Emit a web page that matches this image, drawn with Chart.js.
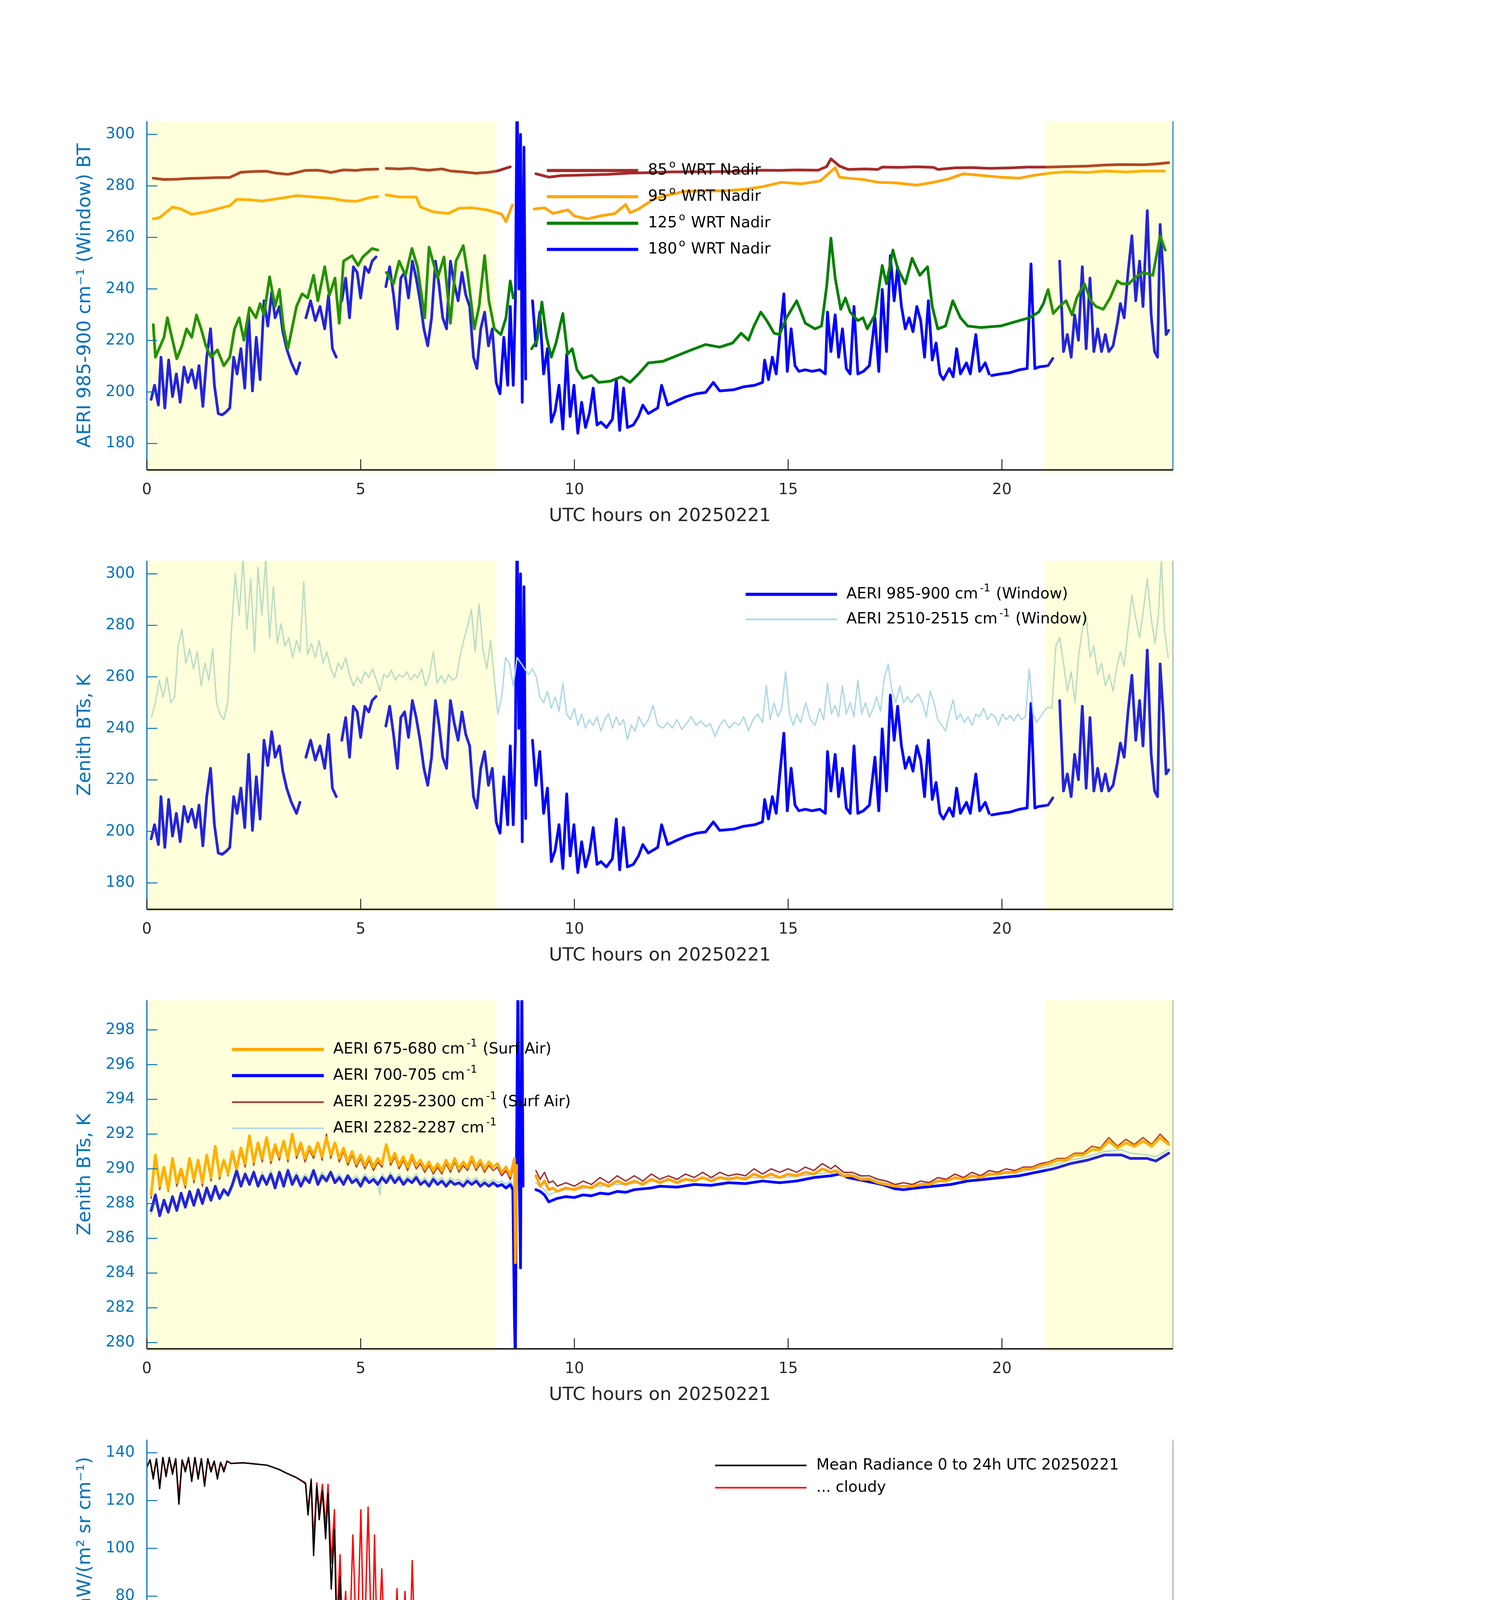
<!DOCTYPE html>
<html><head><meta charset="utf-8">
<script src="https://cdn.jsdelivr.net/npm/chart.js@4.4.1/dist/chart.umd.min.js"></script>
<style>
html,body{margin:0;padding:0;background:#fff;}
#wrap{position:relative;width:3825px;height:6000px;background:#fff;overflow:hidden;}
canvas{position:absolute;left:0;}
</style></head><body><div id="wrap">
<canvas id="c1" width="3825" height="1117" style="top:256px;width:3825px;height:1117px"></canvas>
<canvas id="c2" width="3825" height="1117" style="top:1381px;width:3825px;height:1117px"></canvas>
<canvas id="c3" width="3825" height="1117" style="top:2506px;width:3825px;height:1117px"></canvas>
<canvas id="c4" width="3825" height="1117" style="top:3631px;width:3825px;height:1117px"></canvas>
<canvas id="c5" width="3825" height="1117" style="top:4756px;width:3825px;height:1117px"></canvas>
</div>
<script>
// ---------------- DATA ----------------
const shadeStart = [0, 21.03];
const shadeEnd = [8.17, 24];
const hourTicks = [0, 5, 10, 15, 20];
const btTicks = [180, 200, 220, 240, 260, 280, 300];
const surfTicks = [280, 282, 284, 286, 288, 290, 292, 294, 296, 298];
const wnTicksA = [600, 800, 1000, 1200, 1400, 1600, 1800];
const wnTicksB = [1800, 2000, 2200, 2400, 2600, 2800, 3000];
const radTicksA = [0, 20, 40, 60, 80, 100, 120, 140];
const radTicksB = [0, 1, 2, 3, 4, 5, 6, 7, 8, 9];

// Panel 1: BT vs scene angle (hours, K)
const bt85 = [[0.15,283.0],[0.4,282.5],[0.7,282.6],[1.0,282.9],[1.3,283.0],[1.6,283.2],[1.94,283.3],[2.2,285.3],[2.5,285.6],[2.8,285.7],[3.0,285.0],[3.3,284.5],[3.5,285.2],[3.7,286.0],[4.0,286.1],[4.2,285.6],[4.3,285.2],[4.6,286.2],[4.9,286.0],[5.1,286.4],[5.4,286.5],[5.5,null],[5.6,286.8],[5.9,286.6],[6.2,286.9],[6.4,286.4],[6.6,286.1],[6.9,286.6],[7.1,285.8],[7.4,285.4],[7.7,284.9],[8.0,285.3],[8.2,285.8],[8.5,287.4],[8.8,null],[9.1,284.7],[9.4,283.4],[9.7,284.0],[10.0,284.1],[10.4,284.3],[10.8,284.5],[11.3,285.0],[11.7,285.1],[12.2,285.4],[12.7,285.5],[13.2,285.5],[13.7,285.6],[14.0,285.8],[14.4,286.1],[14.8,286.0],[15.2,286.2],[15.7,286.1],[15.9,287.5],[16.0,290.5],[16.2,287.7],[16.4,286.4],[16.8,286.6],[17.1,286.4],[17.2,287.3],[17.6,287.2],[18.0,287.4],[18.4,287.2],[18.5,286.4],[18.9,287.0],[19.3,287.1],[19.7,286.8],[20.2,287.0],[20.6,287.3],[21.1,287.3],[21.5,287.5],[22.0,287.7],[22.4,288.1],[22.8,288.3],[23.3,288.2],[23.6,288.5],[23.9,289.0]];
const bt95 = [[0.15,267.2],[0.3,267.7],[0.6,271.8],[0.8,271.0],[1.05,269.0],[1.4,270.0],[1.7,271.3],[1.95,272.4],[2.1,274.8],[2.4,274.6],[2.7,274.1],[3.05,275.0],[3.5,276.2],[3.9,275.7],[4.3,275.2],[4.6,274.3],[4.9,274.0],[5.2,275.4],[5.4,275.9],[5.5,null],[5.6,276.5],[5.9,275.7],[6.3,275.7],[6.4,271.8],[6.7,269.9],[7.05,269.3],[7.3,271.3],[7.6,271.5],[7.95,270.7],[8.3,269.0],[8.4,266.1],[8.55,272.6],[8.8,null],[9.06,271.0],[9.3,271.5],[9.5,269.3],[9.85,270.7],[10.0,268.3],[10.3,267.2],[10.6,268.3],[10.95,269.3],[11.2,272.8],[11.3,269.6],[11.5,271.0],[11.85,274.8],[12.2,276.5],[12.6,277.9],[13.1,278.1],[13.5,278.1],[14.0,278.7],[14.4,279.7],[14.85,281.4],[15.3,280.8],[15.75,281.9],[15.9,284.1],[16.1,287.1],[16.2,283.4],[16.4,283.0],[16.75,282.5],[17.1,281.4],[17.5,281.2],[18.0,280.3],[18.4,281.4],[18.75,282.7],[19.1,284.7],[19.5,284.1],[19.95,283.4],[20.4,283.0],[20.75,284.1],[21.1,284.9],[21.5,285.5],[22.0,285.2],[22.4,285.8],[22.9,285.4],[23.3,285.8],[23.8,285.8]];
const bt125 = [[0.15,226.1],[0.2,213.5],[0.4,221.2],[0.48,228.8],[0.7,212.9],[0.82,217.9],[0.93,224.5],[1.05,221.2],[1.16,229.9],[1.27,224.5],[1.38,217.9],[1.5,213.5],[1.65,216.3],[1.8,210.2],[1.94,213.5],[2.05,224.5],[2.16,228.8],[2.27,220.1],[2.4,232.7],[2.55,228.8],[2.65,234.3],[2.74,229.9],[2.87,244.7],[3.0,233.2],[3.1,239.8],[3.2,224.5],[3.3,216.8],[3.5,233.2],[3.63,238.1],[3.76,236.5],[3.9,245.3],[4.0,235.4],[4.16,248.6],[4.27,237.6],[4.4,244.2],[4.5,226.7],[4.6,250.8],[4.8,252.9],[4.94,249.1],[5.05,252.4],[5.27,255.7],[5.4,255.1],[5.5,null],[5.6,246.4],[5.77,242.0],[5.9,250.8],[6.05,245.3],[6.2,255.7],[6.33,248.6],[6.5,228.8],[6.6,256.2],[6.8,244.2],[6.95,252.4],[7.1,226.7],[7.23,250.8],[7.4,256.8],[7.5,246.4],[7.66,224.5],[7.77,233.2],[7.9,252.9],[8.0,235.4],[8.13,224.5],[8.28,222.3],[8.4,228.8],[8.5,243.1],[8.57,236.5],[8.8,null],[9.0,216.8],[9.13,220.1],[9.24,234.9],[9.35,221.2],[9.46,213.5],[9.57,219.0],[9.73,230.5],[9.84,214.6],[9.95,216.8],[10.06,208.6],[10.2,205.3],[10.4,206.4],[10.57,203.7],[10.84,204.2],[11.1,205.9],[11.3,203.7],[11.5,207.0],[11.73,211.3],[12.07,211.9],[12.4,214.1],[12.73,216.3],[13.07,218.4],[13.4,217.4],[13.7,219.0],[13.9,222.8],[14.07,220.1],[14.2,225.6],[14.36,231.0],[14.5,227.7],[14.67,222.8],[14.8,222.3],[14.96,228.8],[15.2,235.4],[15.4,226.7],[15.63,224.5],[15.78,225.6],[15.9,240.9],[16.0,259.7],[16.1,244.2],[16.23,232.1],[16.34,236.5],[16.45,231.0],[16.63,227.7],[16.75,228.8],[16.85,224.5],[17.03,229.9],[17.2,249.1],[17.3,242.0],[17.45,255.1],[17.56,248.0],[17.74,242.0],[17.9,251.9],[18.08,245.3],[18.26,248.6],[18.37,233.2],[18.5,224.5],[18.68,225.6],[18.85,235.4],[19.03,228.8],[19.2,225.6],[19.5,225.0],[19.97,225.6],[20.3,227.2],[20.64,228.8],[20.86,231.0],[20.97,234.3],[21.08,239.8],[21.2,230.5],[21.35,233.2],[21.5,235.4],[21.64,229.9],[21.75,236.5],[21.93,242.0],[22.08,235.4],[22.2,233.2],[22.37,232.1],[22.53,236.5],[22.7,243.1],[22.8,242.0],[22.97,242.0],[23.1,244.2],[23.3,246.4],[23.53,245.3],[23.7,260.6],[23.82,255.1]];
// 180 deg (zenith) = AERI 985-900 window channel, shared by panels 1 and 2
const bt180 = [[0.1,197.1],[0.18,202.6],[0.27,194.9],[0.33,213.5],[0.42,193.8],[0.51,212.4],[0.6,198.2],[0.69,207.0],[0.78,196.0],[0.87,209.7],[0.96,203.7],[1.05,208.6],[1.14,201.5],[1.22,210.2],[1.31,194.4],[1.4,213.5],[1.49,224.5],[1.58,202.6],[1.67,191.6],[1.76,191.1],[1.85,192.2],[1.94,193.8],[2.03,213.5],[2.11,207.0],[2.2,216.8],[2.29,201.5],[2.38,229.9],[2.47,200.4],[2.56,221.2],[2.65,204.8],[2.74,235.4],[2.83,225.6],[2.92,238.7],[3.0,228.8],[3.1,233.2],[3.18,223.4],[3.27,216.8],[3.38,211.3],[3.5,207.0],[3.58,211.3],[3.65,null],[3.72,228.8],[3.83,235.4],[3.94,227.7],[4.05,233.2],[4.16,224.5],[4.25,237.6],[4.34,216.8],[4.43,213.5],[4.5,null],[4.56,235.4],[4.65,244.2],[4.74,228.8],[4.83,248.6],[4.92,246.4],[5.0,236.5],[5.1,248.6],[5.19,246.4],[5.27,250.8],[5.36,252.4],[5.47,null],[5.59,240.9],[5.68,248.6],[5.77,237.6],[5.86,224.5],[5.94,244.2],[6.03,246.4],[6.12,236.5],[6.21,250.8],[6.3,244.2],[6.39,235.4],[6.48,224.5],[6.57,217.9],[6.66,228.8],[6.75,250.8],[6.83,242.0],[6.92,228.8],[7.01,224.5],[7.1,250.8],[7.19,242.0],[7.28,235.4],[7.37,246.4],[7.46,237.6],[7.55,233.2],[7.64,213.5],[7.72,209.1],[7.81,224.5],[7.9,231.0],[7.99,217.9],[8.08,224.5],[8.17,203.7],[8.26,199.3],[8.35,221.2],[8.44,202.6],[8.5,233.2],[8.57,202.6],[8.62,235.4],[8.66,320],[8.7,240],[8.74,300],[8.78,196.0],[8.82,295.0],[8.86,205],[8.92,null],[9.02,235.4],[9.1,217.9],[9.19,231.0],[9.28,207.0],[9.37,216.8],[9.46,188.3],[9.55,192.7],[9.64,202.6],[9.73,185.6],[9.82,214.6],[9.9,190.5],[9.99,202.6],[10.08,184.0],[10.17,196.0],[10.26,186.2],[10.35,191.6],[10.44,201.5],[10.53,187.2],[10.62,188.3],[10.75,186.2],[10.89,189.4],[10.98,204.8],[11.06,185.1],[11.15,201.5],[11.24,186.2],[11.38,187.2],[11.5,190.5],[11.6,194.9],[11.73,191.6],[11.95,193.8],[12.04,202.6],[12.18,194.9],[12.4,196.6],[12.62,198.2],[12.85,199.3],[13.07,199.8],[13.25,203.7],[13.4,200.4],[13.74,200.9],[13.96,202.0],[14.22,202.6],[14.4,203.7],[14.45,212.4],[14.54,204.8],[14.63,213.5],[14.72,207.0],[14.8,221.2],[14.9,238.1],[14.98,208.0],[15.07,224.5],[15.16,210.2],[15.25,208.0],[15.4,208.6],[15.56,208.0],[15.74,208.6],[15.87,207.0],[15.92,231.0],[16.0,215.7],[16.1,229.9],[16.18,213.5],[16.27,224.5],[16.36,209.1],[16.45,207.0],[16.54,233.2],[16.63,207.0],[16.76,208.0],[16.9,210.2],[17.03,228.8],[17.12,208.0],[17.2,239.8],[17.3,215.7],[17.39,252.9],[17.48,235.4],[17.56,248.6],[17.65,233.2],[17.74,224.5],[17.83,228.8],[17.92,223.4],[18.01,233.2],[18.1,227.7],[18.19,213.5],[18.28,235.4],[18.37,212.4],[18.46,219.0],[18.55,207.0],[18.63,204.8],[18.77,209.1],[18.86,205.9],[18.94,216.8],[19.03,207.0],[19.17,211.3],[19.26,207.0],[19.39,222.3],[19.48,208.0],[19.61,211.3],[19.7,207.0],[19.73,null],[19.76,206.4],[19.97,207.0],[20.19,207.5],[20.41,208.6],[20.59,209.1],[20.68,249.7],[20.77,209.1],[20.86,209.7],[21.08,210.2],[21.19,213.0],[21.27,null],[21.35,250.8],[21.44,215.7],[21.53,222.3],[21.62,213.5],[21.7,229.9],[21.79,220.1],[21.88,248.6],[21.97,216.8],[22.06,244.2],[22.15,215.7],[22.24,224.5],[22.33,215.7],[22.42,222.3],[22.5,215.7],[22.6,217.9],[22.7,226.7],[22.77,234.3],[22.86,228.8],[22.95,246.4],[23.04,260.6],[23.13,235.4],[23.22,250.8],[23.3,233.2],[23.4,270.4],[23.49,229.9],[23.57,215.7],[23.64,213.5],[23.7,265.0],[23.77,246.4],[23.84,222.3],[23.9,223.9]];

// Panel 2: AERI 2510-2515 window channel
const bt2510 = [[0.11,244.5],[0.2,250.0],[0.29,258.7],[0.38,252.2],[0.47,259.8],[0.56,250.0],[0.65,252.2],[0.73,271.9],[0.82,278.4],[0.91,265.3],[1.0,270.8],[1.09,263.1],[1.18,269.7],[1.27,256.5],[1.36,265.3],[1.45,258.7],[1.54,270.8],[1.63,250.0],[1.71,245.6],[1.8,243.4],[1.89,250.0],[1.98,278.4],[2.07,300.3],[2.16,283.9],[2.25,306],[2.34,278.4],[2.43,298.1],[2.52,269.7],[2.6,302.5],[2.69,283.9],[2.78,306],[2.87,275.2],[2.96,294.9],[3.05,273.0],[3.14,280.6],[3.23,271.9],[3.32,275.2],[3.41,267.5],[3.5,274.1],[3.58,269.7],[3.67,297.0],[3.76,268.6],[3.85,273.0],[3.94,267.5],[4.03,274.1],[4.12,265.3],[4.21,269.7],[4.3,263.1],[4.39,259.8],[4.47,265.3],[4.56,263.1],[4.65,267.5],[4.74,260.9],[4.83,256.5],[4.92,259.8],[5.01,257.6],[5.1,262.0],[5.19,259.8],[5.28,263.1],[5.37,258.7],[5.45,254.4],[5.54,260.9],[5.63,259.8],[5.72,262.6],[5.81,258.7],[5.9,260.9],[5.99,259.8],[6.08,262.0],[6.17,258.7],[6.26,260.9],[6.34,259.8],[6.43,263.1],[6.52,256.5],[6.61,260.9],[6.7,269.7],[6.79,257.6],[6.88,260.4],[6.97,257.6],[7.06,260.9],[7.15,258.7],[7.24,259.8],[7.32,267.5],[7.41,274.1],[7.5,279.5],[7.59,286.1],[7.68,269.7],[7.77,288.3],[7.86,270.8],[7.95,263.1],[8.04,274.1],[8.13,258.7],[8.21,245.6],[8.3,252.2],[8.39,267.5],[8.48,265.3],[8.57,256.5],[8.66,267.5],[8.75,265.3],[8.84,263.1],[8.93,260.9],[9.02,263.1],[9.11,259.8],[9.19,252.2],[9.28,250.0],[9.37,254.4],[9.46,247.8],[9.55,252.2],[9.64,246.7],[9.73,257.6],[9.82,245.6],[9.91,243.4],[10.0,247.8],[10.08,241.2],[10.17,245.6],[10.26,240.1],[10.35,243.4],[10.44,241.2],[10.53,244.5],[10.62,239.0],[10.71,243.4],[10.8,245.6],[10.89,240.1],[10.98,244.5],[11.06,241.2],[11.15,243.4],[11.24,235.7],[11.33,241.2],[11.42,239.0],[11.51,244.5],[11.62,240.7],[11.73,243.4],[11.84,248.9],[11.95,241.2],[12.07,240.1],[12.18,242.3],[12.29,240.1],[12.4,243.4],[12.51,239.6],[12.62,241.8],[12.73,244.5],[12.85,241.2],[12.96,242.9],[13.07,240.7],[13.18,241.8],[13.29,236.8],[13.4,241.2],[13.51,243.4],[13.62,240.1],[13.74,242.3],[13.85,241.2],[13.96,244.5],[14.07,239.0],[14.18,243.4],[14.29,245.6],[14.4,242.3],[14.49,256.5],[14.58,243.4],[14.67,250.0],[14.76,244.5],[14.85,247.8],[14.94,262.0],[15.03,245.6],[15.12,241.2],[15.2,245.6],[15.29,242.3],[15.41,250.0],[15.52,243.4],[15.63,241.2],[15.74,247.8],[15.83,243.4],[15.92,257.6],[16.01,245.6],[16.1,248.9],[16.18,244.5],[16.27,256.5],[16.36,245.6],[16.45,250.0],[16.54,244.5],[16.63,258.7],[16.72,245.6],[16.81,250.0],[16.9,244.5],[16.99,247.8],[17.07,252.2],[17.16,246.7],[17.25,259.8],[17.34,264.8],[17.43,254.4],[17.52,250.0],[17.61,256.5],[17.7,250.0],[17.79,252.2],[17.88,250.0],[17.97,252.2],[18.05,253.3],[18.14,250.0],[18.23,244.5],[18.32,254.4],[18.41,250.0],[18.5,243.4],[18.59,241.2],[18.68,239.0],[18.77,245.6],[18.86,251.1],[18.94,243.4],[19.03,245.6],[19.12,242.3],[19.21,244.5],[19.3,241.2],[19.39,245.6],[19.48,244.5],[19.57,247.8],[19.66,243.4],[19.75,245.6],[19.84,244.5],[19.92,241.2],[20.01,245.6],[20.1,243.4],[20.19,245.0],[20.28,242.9],[20.37,245.6],[20.46,243.4],[20.55,244.5],[20.64,263.1],[20.73,245.6],[20.81,242.3],[20.9,244.5],[20.99,246.7],[21.08,248.3],[21.17,247.8],[21.26,271.9],[21.35,275.2],[21.44,265.3],[21.53,254.4],[21.62,262.0],[21.71,250.0],[21.79,267.5],[21.88,278.4],[21.97,283.9],[22.06,267.5],[22.15,271.9],[22.24,260.9],[22.33,265.3],[22.42,256.5],[22.51,260.9],[22.6,254.4],[22.68,263.1],[22.77,269.7],[22.86,264.2],[22.95,278.4],[23.04,291.6],[23.13,282.8],[23.22,275.2],[23.31,286.1],[23.4,298.1],[23.49,282.8],[23.58,273.0],[23.66,283.9],[23.73,306],[23.8,278.4],[23.89,267.5]];

// Panel 3: surface-air channels
const bt675 = [[0.1,288.5],[0.2,290.8],[0.3,289.0],[0.4,290.1],[0.5,288.8],[0.6,290.6],[0.7,289.2],[0.8,290.0],[0.9,289.1],[1.0,290.6],[1.1,289.4],[1.2,290.5],[1.3,289.2],[1.4,290.8],[1.5,289.5],[1.6,291.3],[1.7,289.6],[1.8,290.5],[1.9,289.7],[2.0,291.0],[2.1,290.0],[2.2,291.2],[2.3,290.3],[2.4,291.9],[2.5,290.4],[2.6,291.5],[2.7,290.6],[2.8,291.8],[2.9,290.5],[3.0,291.4],[3.1,290.7],[3.2,291.6],[3.3,290.6],[3.4,292.0],[3.5,290.8],[3.6,291.5],[3.7,290.6],[3.8,291.3],[3.9,290.8],[4.0,291.5],[4.1,290.7],[4.2,291.8],[4.3,290.8],[4.4,291.5],[4.5,290.6],[4.6,291.2],[4.7,290.4],[4.8,291.0],[4.9,290.3],[5.0,290.8],[5.1,290.2],[5.2,290.7],[5.3,290.1],[5.4,290.6],[5.5,290.3],[5.6,291.4],[5.7,290.4],[5.8,290.9],[5.9,290.2],[6.0,290.7],[6.1,290.1],[6.2,290.8],[6.3,290.2],[6.4,290.5],[6.5,290.0],[6.6,290.4],[6.7,289.9],[6.8,290.3],[6.9,289.9],[7.0,290.5],[7.1,290.0],[7.2,290.6],[7.3,290.0],[7.4,290.4],[7.5,290.1],[7.6,290.7],[7.7,290.1],[7.8,290.5],[7.9,290.0],[8.0,290.4],[8.1,290.1],[8.2,290.3],[8.3,289.8],[8.4,290.1],[8.5,289.6],[8.6,290.6],[8.62,284.6],[8.65,290.2],[8.7,null],[9.1,289.6],[9.2,289.0],[9.3,289.3],[9.4,288.8],[9.5,288.9],[9.6,288.7],[9.8,288.9],[10.0,288.8],[10.2,289.0],[10.4,288.9],[10.6,289.2],[10.8,289.0],[11.0,289.3],[11.2,289.1],[11.4,289.3],[11.6,289.1],[11.8,289.4],[12.0,289.2],[12.2,289.4],[12.4,289.2],[12.6,289.4],[12.8,289.3],[13.0,289.5],[13.2,289.3],[13.4,289.5],[13.6,289.4],[13.8,289.5],[14.0,289.4],[14.2,289.7],[14.4,289.5],[14.6,289.7],[14.8,289.5],[15.0,289.7],[15.2,289.6],[15.4,289.8],[15.6,289.7],[15.8,290.0],[16.0,289.8],[16.1,289.9],[16.3,289.6],[16.5,289.6],[16.7,289.4],[16.9,289.4],[17.1,289.2],[17.3,289.1],[17.5,289.0],[17.7,289.0],[17.9,289.0],[18.1,289.1],[18.3,289.1],[18.5,289.3],[18.7,289.3],[18.9,289.5],[19.1,289.4],[19.3,289.6],[19.5,289.5],[19.7,289.7],[19.9,289.7],[20.1,289.8],[20.3,289.8],[20.5,290.0],[20.7,290.0],[20.9,290.2],[21.1,290.3],[21.3,290.5],[21.5,290.5],[21.7,290.8],[21.9,290.8],[22.1,291.1],[22.3,291.1],[22.5,291.6],[22.7,291.2],[22.9,291.5],[23.1,291.3],[23.3,291.6],[23.5,291.3],[23.7,291.8],[23.9,291.4]];
const bt700 = [[0.1,287.6],[0.2,288.5],[0.3,287.3],[0.4,288.2],[0.5,287.5],[0.6,288.4],[0.7,287.6],[0.8,288.6],[0.9,287.8],[1.0,288.7],[1.1,287.9],[1.2,288.8],[1.3,288.0],[1.4,288.9],[1.5,288.2],[1.6,289.0],[1.7,288.3],[1.8,288.8],[1.9,288.5],[2.0,289.1],[2.1,289.9],[2.2,289.0],[2.3,289.7],[2.4,289.1],[2.5,289.8],[2.6,289.0],[2.7,289.6],[2.8,289.1],[2.9,289.7],[3.0,288.9],[3.1,289.8],[3.2,289.0],[3.3,289.9],[3.4,289.1],[3.5,289.6],[3.6,289.0],[3.7,289.5],[3.8,289.2],[3.9,289.9],[4.0,289.1],[4.1,289.6],[4.2,289.3],[4.3,289.8],[4.4,289.2],[4.5,289.5],[4.6,289.1],[4.7,289.6],[4.8,289.2],[4.9,289.4],[5.0,289.0],[5.1,289.5],[5.2,289.2],[5.3,289.4],[5.4,289.1],[5.5,289.5],[5.6,289.2],[5.7,289.6],[5.8,289.2],[5.9,289.5],[6.0,289.1],[6.1,289.4],[6.2,289.2],[6.3,289.5],[6.4,289.1],[6.5,289.3],[6.6,289.0],[6.7,289.4],[6.8,289.1],[6.9,289.3],[7.0,289.0],[7.1,289.3],[7.2,289.1],[7.3,289.2],[7.4,289.0],[7.5,289.3],[7.6,289.1],[7.7,289.3],[7.8,289.0],[7.9,289.2],[8.0,289.0],[8.1,289.2],[8.2,289.0],[8.3,289.1],[8.4,288.9],[8.5,289.1],[8.56,288.8],[8.6,281.0],[8.62,279.0],[8.64,288.9],[8.68,301],[8.71,289.5],[8.74,284.3],[8.77,301],[8.8,289.0],[8.85,null],[9.1,288.8],[9.2,288.7],[9.3,288.5],[9.4,288.1],[9.5,288.2],[9.6,288.3],[9.8,288.4],[10.0,288.35],[10.2,288.5],[10.4,288.45],[10.6,288.6],[10.8,288.55],[11.0,288.7],[11.2,288.65],[11.4,288.8],[11.6,288.85],[11.8,288.9],[12.0,289.0],[12.4,288.95],[12.8,289.1],[13.2,289.05],[13.6,289.2],[14.0,289.15],[14.4,289.3],[14.8,289.2],[15.2,289.3],[15.6,289.5],[16.0,289.6],[16.2,289.7],[16.4,289.5],[16.8,289.3],[17.2,289.1],[17.5,288.85],[17.7,288.8],[18.0,288.9],[18.4,289.0],[18.8,289.1],[19.2,289.3],[19.6,289.4],[20.0,289.5],[20.4,289.6],[20.8,289.8],[21.2,290.0],[21.6,290.3],[22.0,290.5],[22.4,290.8],[22.8,290.8],[23.0,290.6],[23.4,290.6],[23.6,290.45],[23.9,290.9]];
const bt2295 = [[0.1,288.3],[0.2,290.6],[0.3,288.8],[0.4,289.9],[0.5,288.7],[0.6,290.4],[0.7,289.0],[0.8,289.8],[0.9,288.9],[1.0,290.5],[1.1,289.2],[1.2,290.3],[1.3,289.0],[1.4,290.6],[1.5,289.3],[1.6,291.2],[1.7,289.4],[1.8,290.4],[1.9,289.6],[2.0,290.8],[2.1,289.8],[2.2,291.0],[2.3,290.1],[2.4,291.8],[2.5,290.2],[2.6,291.3],[2.7,290.4],[2.8,291.7],[2.9,290.3],[3.0,291.2],[3.1,290.5],[3.2,291.5],[3.3,290.4],[3.4,292.0],[3.5,290.6],[3.6,291.3],[3.7,290.4],[3.8,291.1],[3.9,290.6],[4.0,291.4],[4.1,290.5],[4.2,292.0],[4.3,290.6],[4.4,291.4],[4.5,290.4],[4.6,291.0],[4.7,290.2],[4.8,290.8],[4.9,290.1],[5.0,290.6],[5.1,290.0],[5.2,290.5],[5.3,289.9],[5.4,290.4],[5.5,290.1],[5.6,291.3],[5.7,290.2],[5.8,290.7],[5.9,290.0],[6.0,290.5],[6.1,289.9],[6.2,290.6],[6.3,290.0],[6.4,290.3],[6.5,289.8],[6.6,290.2],[6.7,289.7],[6.8,290.1],[6.9,289.7],[7.0,290.3],[7.1,289.8],[7.2,290.4],[7.3,289.8],[7.4,290.2],[7.5,289.9],[7.6,290.5],[7.7,289.9],[7.8,290.3],[7.9,289.8],[8.0,290.2],[8.1,289.9],[8.2,290.1],[8.3,289.6],[8.4,289.9],[8.5,289.4],[8.6,290.3],[8.63,284.7],[8.66,290.0],[8.7,null],[9.1,289.9],[9.2,289.4],[9.3,289.8],[9.4,289.2],[9.5,289.3],[9.6,289.0],[9.8,289.2],[10.0,289.0],[10.2,289.3],[10.4,289.1],[10.6,289.5],[10.8,289.2],[11.0,289.6],[11.2,289.3],[11.4,289.6],[11.6,289.3],[11.8,289.7],[12.0,289.4],[12.2,289.6],[12.4,289.4],[12.6,289.7],[12.8,289.5],[13.0,289.8],[13.2,289.5],[13.4,289.8],[13.6,289.6],[13.8,289.7],[14.0,289.6],[14.2,290.0],[14.4,289.7],[14.6,290.0],[14.8,289.8],[15.0,290.0],[15.2,289.8],[15.4,290.1],[15.6,289.9],[15.8,290.3],[16.0,290.0],[16.1,290.2],[16.3,289.8],[16.5,289.8],[16.7,289.6],[16.9,289.6],[17.1,289.4],[17.3,289.3],[17.5,289.1],[17.7,289.2],[17.9,289.1],[18.1,289.3],[18.3,289.2],[18.5,289.5],[18.7,289.4],[18.9,289.7],[19.1,289.5],[19.3,289.8],[19.5,289.6],[19.7,289.9],[19.9,289.8],[20.1,290.0],[20.3,289.9],[20.5,290.1],[20.7,290.1],[20.9,290.3],[21.1,290.4],[21.3,290.6],[21.5,290.6],[21.7,290.9],[21.9,290.9],[22.1,291.3],[22.3,291.2],[22.5,291.8],[22.7,291.3],[22.9,291.7],[23.1,291.4],[23.3,291.8],[23.5,291.4],[23.7,292.0],[23.9,291.5]];
const bt2282 = [[0.1,287.4],[0.2,288.1],[0.3,287.3],[0.4,288.0],[0.5,287.5],[0.6,288.2],[0.7,287.6],[0.8,288.3],[0.9,287.7],[1.0,288.4],[1.1,287.9],[1.2,288.5],[1.3,288.0],[1.4,288.6],[1.5,288.1],[1.6,288.7],[1.7,288.2],[1.8,288.6],[1.9,288.4],[2.0,288.9],[2.1,289.6],[2.2,289.2],[2.3,289.8],[2.4,289.3],[2.5,289.9],[2.6,289.2],[2.7,289.8],[2.8,289.3],[2.9,289.9],[3.0,289.2],[3.1,289.9],[3.2,289.3],[3.3,290.0],[3.4,289.4],[3.5,289.8],[3.6,289.3],[3.7,289.7],[3.8,289.4],[3.9,290.0],[4.0,289.4],[4.1,289.8],[4.2,289.5],[4.3,289.9],[4.4,289.4],[4.5,289.7],[4.6,289.3],[4.7,289.7],[4.8,289.4],[4.9,289.6],[5.0,289.3],[5.1,289.7],[5.2,289.4],[5.3,289.6],[5.4,289.3],[5.45,288.5],[5.5,289.7],[5.6,289.4],[5.7,289.8],[5.8,289.4],[5.9,289.7],[6.0,289.3],[6.1,289.6],[6.2,289.4],[6.3,289.7],[6.4,289.3],[6.5,289.5],[6.6,289.2],[6.7,289.6],[6.8,289.3],[6.9,289.5],[7.0,289.2],[7.1,289.5],[7.2,289.3],[7.3,289.4],[7.4,289.2],[7.5,289.5],[7.6,289.3],[7.7,289.5],[7.8,289.2],[7.9,289.4],[8.0,289.2],[8.1,289.4],[8.2,289.2],[8.3,289.3],[8.4,289.1],[8.5,289.3],[8.58,289.0],[8.61,279.0],[8.63,279.0],[8.65,289.2],[8.7,null],[9.1,289.2],[9.2,289.0],[9.3,288.8],[9.4,288.5],[9.5,288.6],[9.6,288.7],[9.8,288.8],[10.0,288.8],[10.3,288.9],[10.6,289.0],[10.9,289.1],[11.2,289.1],[11.5,289.2],[11.8,289.3],[12.1,289.3],[12.5,289.4],[12.9,289.4],[13.3,289.5],[13.7,289.5],[14.1,289.5],[14.5,289.5],[14.9,289.5],[15.3,289.6],[15.7,289.7],[16.0,289.8],[16.2,289.9],[16.4,289.7],[16.8,289.5],[17.2,289.3],[17.5,289.1],[17.7,289.0],[18.0,289.1],[18.4,289.3],[18.8,289.4],[19.2,289.5],[19.6,289.6],[20.0,289.7],[20.4,289.8],[20.8,290.0],[21.2,290.2],[21.6,290.5],[22.0,290.7],[22.4,291.0],[22.8,291.1],[23.0,290.9],[23.4,290.8],[23.6,290.7],[23.9,291.1]];

// Panel 4: mean radiance 520-1800 cm-1
const radAllA = [[520,134],[524,137],[528,129],[532,137.5],[536,125],[540,138],[544,130],[548,138],[552,131],[556,137.5],[560,118.5],[564,137],[568,132],[572,138],[576,128],[580,138],[584,129],[588,137.5],[592,126],[596,137.5],[600,132],[604,136.5],[608,129],[612,136],[616,132],[620,136.5],[625,135.5],[640,135.8],[655,135.3],[670,134.8],[685,133],[694,131.5],[706,129.7],[715,127.8],[718,127],[721,114],[725,128.5],[728,97],[732,126],[735,112],[739,124],[743,104],[746,123],[750,83],[754,108],[757,60],[761,88],[764,55],[768,72],[772,42],[777,62],[782,46],[787,58],[791,43],[796,55],[801,40],[806,48],[810,38],[815,46],[820,35],[826,41],[830,33],[836,38],[842,31],[848,36],[853,28.5],[858,33],[864,27.5],[870,31],[876,26.5],[882,29],[888,25],[894,28],[900,24],[906,26.5],[912,23],[918,25],[924,22],[930,24],[936,21],[942,23],[948,20],[954,22],[960,18.5],[966,20],[972,17],[978,18],[984,15.5],[990,16.5],[996,15.8],[1002,18],[1008,17.5],[1014,20],[1020,22.5],[1026,25],[1032,27],[1038,28],[1044,26],[1050,24],[1056,20],[1062,15],[1068,12],[1074,13.5],[1080,10.5],[1086,12.5],[1092,10],[1098,12],[1104,10],[1110,12.5],[1116,10],[1122,12],[1128,9.5],[1134,12],[1140,9.5],[1146,11.5],[1152,9.5],[1158,12],[1164,10],[1170,12],[1176,9.5],[1182,11],[1188,10],[1194,12],[1200,10],[1206,11],[1212,9.5],[1218,12],[1224,9.5],[1230,8.8],[1236,8.5],[1241,16],[1247,17],[1252,19],[1256,35],[1261,40],[1265,36],[1271,42],[1277,27],[1283,40],[1289,30.5],[1295,40],[1301,36.5],[1307,39.5],[1312,39],[1318,38.5],[1324,36.8],[1330,32],[1336,37],[1348,35.4],[1359,34.2],[1383,32.4],[1407,30.1],[1425,29.5],[1454,27.1],[1478,24.8],[1508,23],[1514,22.4],[1537,20.6],[1543,19.5],[1561,19.5],[1585,17.7],[1614,15.9],[1620,15.3],[1637,14.7],[1653,14.2],[1674,13],[1680,12.6],[1699,11.8],[1718,11.2],[1739,10.6],[1763,9.8],[1787,8.8],[1800,8.8]];
const radCloudyA = [[520,134],[524,137],[528,130],[532,137.5],[536,126],[540,138],[544,131],[548,138],[552,132],[556,137.5],[560,121.5],[564,137],[568,133],[572,138],[576,129],[580,138],[584,130],[588,137.5],[592,127],[596,137.5],[600,133],[604,136.5],[608,130],[612,136],[616,133],[620,136.5],[625,135.5],[640,135.8],[655,135.3],[670,134.8],[685,133],[694,131.5],[706,129.7],[715,128],[718,127.4],[721,116.2],[725,129.1],[728,103.2],[732,127.4],[735,115],[739,126.8],[743,109.1],[746,126.8],[750,93.8],[754,116.2],[757,67.8],[761,97.3],[764,61.9],[768,82],[772,50],[777,105.6],[782,53.7],[787,116.2],[791,52.5],[796,117.3],[801,48.9],[804,105.6],[808,48.9],[813,91.4],[818,46.6],[823,73.7],[828,44.2],[832,83.1],[837,41.9],[842,82],[847,40.7],[851,94.9],[856,39.5],[861,56],[866,38.3],[872,74.8],[878,37.2],[882,61.9],[887,34.8],[892,57.2],[896,33.6],[901,45],[906,32.4],[909,73.1],[914,31.3],[920,44.2],[926,30.1],[932,47.8],[938,28.9],[944,37.2],[949,60.8],[954,27.7],[961,38.3],[968,26.5],[976,44.8],[982,23],[989,21.8],[997,22.4],[1003,28.9],[1009,24.2],[1015,56.6],[1019,26.5],[1026,48.9],[1031,27.7],[1038,28.9],[1044,26.5],[1050,32.4],[1055,21.8],[1060,57.2],[1065,20.6],[1069,15.9],[1074,26.5],[1080,15.9],[1086,48.9],[1092,14.7],[1098,47.8],[1104,14.7],[1110,45.4],[1116,14.2],[1122,56],[1128,14.7],[1136,61.9],[1142,14.7],[1148,32.4],[1153,41.9],[1158,15.9],[1163,52.5],[1169,15.9],[1174,56],[1179,17.1],[1184,50],[1189,15.9],[1194,55.3],[1200,18.3],[1206,26.5],[1213,51.3],[1219,18.3],[1226,51.3],[1232,11.2],[1236,12.4],[1241,38.3],[1246,47.8],[1251,19.5],[1256,39.5],[1261,44.2],[1265,37.2],[1271,44.2],[1277,27.7],[1283,41.9],[1289,31.3],[1295,41.9],[1301,37.2],[1307,40.1],[1312,39.5],[1318,38.9],[1324,37.2],[1330,32.4],[1336,37.2],[1348,35.4],[1359,34.2],[1383,32.4],[1407,30.1],[1419,33],[1425,29.5],[1454,27.1],[1478,24.8],[1508,23],[1510,30.1],[1514,22.4],[1537,20.6],[1540,26.5],[1543,19.5],[1559,28.9],[1561,19.5],[1585,17.7],[1614,15.9],[1617,25.9],[1620,15.3],[1635,23],[1637,14.7],[1650,24.2],[1653,14.2],[1674,13],[1676,20.6],[1680,12.6],[1696,20],[1699,11.8],[1716,20.6],[1718,11.2],[1739,10.6],[1763,9.8],[1787,8.8],[1793,6.5],[1800,8.8]];

// Panel 5: mean radiance 1800-3020 cm-1
const radAllB = [[1800,9.45],[1803,9.05],[1805,8.72],[1809,9.0],[1812,8.65],[1816,8.33],[1819,8.68],[1824,8.22],[1828,8.65],[1833,8.3],[1837,7.85],[1842,8.2],[1846,7.8],[1851,7.56],[1855,7.3],[1860,7.48],[1865,7.18],[1869,7.4],[1874,6.97],[1878,6.3],[1883,6.88],[1887,6.25],[1892,6.88],[1896,6.55],[1901,5.45],[1904,6.38],[1910,5.96],[1915,6.38],[1921,5.96],[1927,5.45],[1930,4.42],[1935,5.8],[1939,5.62],[1944,5.7],[1948,4.75],[1953,3.4],[1956,5.38],[1960,4.42],[1963,5.2],[1966,5.12],[1970,3.55],[1973,2.3],[1977,2.9],[1980,1.98],[1983,3.32],[1987,2.45],[1990,4.88],[1994,3.05],[1997,4.62],[2000,2.72],[2004,1.65],[2007,4.45],[2011,1.9],[2014,3.15],[2017,4.28],[2021,2.55],[2024,4.2],[2028,2.3],[2031,0.9],[2034,3.6],[2038,1.88],[2041,3.94],[2045,1.48],[2048,3.18],[2051,1.05],[2055,2.22],[2058,0.8],[2062,3.6],[2065,1.9],[2068,0.97],[2072,3.34],[2075,1.48],[2079,3.34],[2082,0.72],[2085,3.0],[2089,1.2],[2092,2.76],[2095,0.63],[2099,2.32],[2102,0.46],[2107,2.32],[2111,0.54],[2116,2.9],[2120,0.46],[2125,1.9],[2129,0.38],[2134,1.48],[2137,2.58],[2142,0.38],[2146,2.06],[2151,0.33],[2155,2.15],[2160,0.34],[2164,1.4],[2170,0.47],[2176,1.9],[2181,0.72],[2187,1.64],[2192,1.98],[2198,1.3],[2204,1.9],[2210,1.64],[2215,1.82],[2221,1.5],[2224,1.12],[2229,1.93],[2236,2.0],[2244,1.84],[2261,1.8],[2283,1.67],[2306,1.59],[2329,1.47],[2351,1.35],[2374,1.22],[2388,1.1],[2392,0.6],[2399,0.43],[2419,0.31],[2442,0.23],[2464,0.21],[2487,0.17],[2510,0.15],[2532,0.16],[2555,0.16],[2578,0.17],[2600,0.17],[2623,0.19],[2650,0.18],[2668,0.18],[2690,0.17],[2719,0.2],[2740,0.16],[2759,0.15],[2790,0.14],[2815,0.13],[2845,0.12],[2872,0.11],[2900,0.1],[2929,0.09],[2960,0.09],[2985,0.09],[3019,0.09]];
const radCloudyB = [[1800,9.49],[1803,9.11],[1805,8.77],[1809,9.03],[1812,8.69],[1816,8.39],[1819,8.72],[1824,8.27],[1828,8.69],[1833,8.35],[1837,7.89],[1842,8.23],[1846,7.85],[1851,7.60],[1855,7.34],[1860,7.51],[1865,7.22],[1869,7.43],[1874,7.01],[1878,6.42],[1883,6.92],[1887,6.34],[1892,6.92],[1896,6.59],[1901,5.50],[1904,6.42],[1910,6.00],[1915,6.42],[1921,6.00],[1927,5.50],[1930,4.49],[1935,5.83],[1939,5.66],[1944,5.75],[1948,4.82],[1953,3.48],[1956,5.41],[1960,4.49],[1963,5.24],[1966,5.16],[1970,3.65],[1973,2.39],[1977,2.97],[1980,2.05],[1983,3.39],[1987,2.55],[1990,4.91],[1994,3.14],[1997,4.66],[2000,2.81],[2004,1.71],[2007,4.49],[2011,1.97],[2014,3.23],[2017,4.32],[2021,2.64],[2024,4.24],[2028,2.39],[2031,0.96],[2034,3.65],[2038,1.97],[2041,3.98],[2045,1.55],[2048,3.23],[2051,1.13],[2055,2.30],[2058,0.87],[2062,3.65],[2065,1.97],[2068,1.04],[2072,3.39],[2075,1.55],[2079,3.39],[2082,0.79],[2085,3.06],[2089,1.29],[2092,2.81],[2095,0.71],[2099,2.39],[2102,0.54],[2107,2.39],[2111,0.62],[2116,2.97],[2120,0.54],[2125,1.97],[2129,0.45],[2134,1.55],[2137,2.64],[2142,0.45],[2146,2.13],[2151,0.37],[2155,2.22],[2160,0.37],[2164,1.46],[2170,0.54],[2176,1.97],[2181,0.79],[2187,1.71],[2192,2.05],[2198,1.38],[2204,1.97],[2210,1.71],[2215,1.88],[2221,1.55],[2224,1.17],[2229,1.97],[2236,2.05],[2244,1.88],[2261,1.84],[2283,1.71],[2306,1.63],[2329,1.50],[2351,1.38],[2374,1.25],[2388,1.13],[2392,0.62],[2399,0.45],[2419,0.33],[2442,0.24],[2464,0.22],[2487,0.18],[2510,0.16],[2532,0.16],[2555,0.15],[2578,0.17],[2600,0.15],[2623,0.18],[2640,0.14],[2650,0.2],[2668,0.15],[2690,0.17],[2719,0.18],[2740,0.14],[2759,0.15],[2790,0.13],[2815,0.13],[2845,0.11],[2872,0.10],[2900,0.09],[2929,0.08],[2945,0.12],[2960,0.07],[2985,0.10],[3000,0.08],[3019,0.10]];

// ---------------- RENDERING ----------------
Chart.defaults.font.family = '"DejaVu Sans"';
Chart.defaults.animation = false;

const FONT = '"DejaVu Sans"';
const panelCfg = {};

function drawRich(ctx, str, x, y, size) {
  const parts = str.split(/(\^\{[^}]*\})/);
  for (const p of parts) {
    if (!p) continue;
    if (p.startsWith('^{')) {
      const t = p.slice(2, -1);
      x += size * 0.12;
      ctx.font = Math.round(size * 0.68) + 'px ' + FONT;
      ctx.fillText(t, x, y - size * 0.38);
      x += ctx.measureText(t).width + size * 0.05;
    } else {
      ctx.font = size + 'px ' + FONT;
      ctx.fillText(p, x, y);
      x += ctx.measureText(p).width;
    }
  }
}

const matlabPlugin = {
  id: 'matlab',
  afterDatasetsDraw(chart) {
    const o = panelCfg[chart.canvas.id];
    const ctx = chart.ctx, a = chart.chartArea;
    const xs = chart.scales.x, ys = chart.scales.y;
    ctx.save();
    if (o.shade) {
      ctx.fillStyle = 'rgba(255,255,0,0.14)';
      for (let i = 0; i < shadeStart.length; i++) {
        const x0 = xs.getPixelForValue(shadeStart[i]);
        const x1 = xs.getPixelForValue(shadeEnd[i]);
        ctx.fillRect(x0, a.top, x1 - x0, a.bottom - a.top + 7);
      }
    }
    const seg = (x0, y0, x1, y1) => { ctx.beginPath(); ctx.moveTo(x0, y0); ctx.lineTo(x1, y1); ctx.stroke(); };
    ctx.strokeStyle = o.rightColor; ctx.lineWidth = 3;
    seg(a.right, a.top, a.right, a.bottom);
    ctx.strokeStyle = '#0072BD'; ctx.lineWidth = 3;
    seg(a.left, a.top, a.left, a.bottom);
    ctx.lineWidth = 2.5;
    ys.ticks.forEach(t => { const y = ys.getPixelForValue(t.value); seg(a.left, y, a.left + 27, y); });
    ctx.strokeStyle = '#262626'; ctx.lineWidth = 2.5;
    xs.ticks.forEach(t => { const x = xs.getPixelForValue(t.value); seg(x, a.bottom, x, a.bottom - 27); });
    ctx.lineWidth = 4;
    seg(a.left, a.bottom, a.right, a.bottom);
    ctx.restore();
  },
  afterDraw(chart) {
    const o = panelCfg[chart.canvas.id];
    const ctx = chart.ctx, a = chart.chartArea;
    ctx.save();
    ctx.textBaseline = 'middle';
    ctx.textAlign = 'left';
    o.legend.forEach((it, i) => {
      const ds = chart.data.datasets[it.ds];
      const y = a.top + o.legendY[i];
      ctx.strokeStyle = ds.borderColor;
      ctx.lineWidth = it.w;
      ctx.lineCap = 'butt';
      ctx.beginPath(); ctx.moveTo(o.legendX[0], y); ctx.lineTo(o.legendX[1], y); ctx.stroke();
      ctx.fillStyle = '#000';
      drawRich(ctx, it.text, o.legendX[2], y, 39);
    });
    ctx.restore();
  }
};

function makeChart(id, cfg) {
  panelCfg[id] = cfg;
  return new Chart(document.getElementById(id), {
    type: 'line',
    data: {
      datasets: cfg.series.map(s => ({
        label: s.label,
        data: s.data.map(p => ({ x: p[0], y: p[1] })),
        borderColor: s.color,
        borderWidth: s.width,
        pointRadius: 0, pointHoverRadius: 0, pointHitRadius: 0,
        fill: false, tension: 0, spanGaps: false,
        borderJoinStyle: 'round', borderCapStyle: 'round'
      }))
    },
    options: {
      responsive: false, maintainAspectRatio: false, animation: false, devicePixelRatio: 1,
      events: [],
      layout: { padding: { left: 0, right: 822, top: 40, bottom: 0 } },
      plugins: { legend: { display: false }, tooltip: { enabled: false } },
      scales: {
        x: {
          type: 'linear', min: cfg.xmin, max: cfg.xmax,
          afterFit: s => { s.height = 170; },
          afterBuildTicks: s => { s.ticks = cfg.xticks.map(v => ({ value: v })); },
          grid: { display: false, drawTicks: false }, border: { display: false },
          ticks: { color: '#262626', font: { size: 39, family: FONT }, padding: 28, maxRotation: 0, minRotation: 0, autoSkip: false, callback: v => String(v) },
          title: { display: true, text: cfg.xtitle, color: '#262626', font: { size: 47, family: FONT }, padding: { top: 0, bottom: 23 } }
        },
        y: {
          type: 'linear', min: cfg.ymin, max: cfg.ymax,
          afterFit: s => { s.width = 376; },
          afterBuildTicks: s => { s.ticks = cfg.yticks.map(v => ({ value: v })); },
          grid: { display: false, drawTicks: false }, border: { display: false },
          ticks: { color: '#0072BD', font: { size: 39, family: FONT }, padding: 31, autoSkip: false, callback: v => String(v) },
          title: { display: true, text: cfg.ytitle, color: '#0072BD', font: { size: 48, family: FONT }, padding: { top: cfg.ytitlePad, bottom: 0 } }
        }
      }
    },
    plugins: [matlabPlugin]
  });
}

const hoursTitle = 'UTC hours on 20250221';
const wnTitle = 'Wavenumber, cm\u207B\u00B9';
const radTitle = 'Mean Radiance, mW/(m\u00B2 sr cm\u207B\u00B9)';

makeChart('c1', {
  xmin: 0, xmax: 24, ymin: 169.73, ymax: 305.1, xticks: hourTicks, yticks: btTicks,
  xtitle: hoursTitle, ytitle: 'AERI 985-900 cm\u207B\u00B9 (Window) BT', ytitlePad: 190,
  shade: true, rightColor: '#2a86c8',
  series: [
    { label: '85 WRT Nadir', data: bt85, color: '#A52A2A', width: 7 },
    { label: '95 WRT Nadir', data: bt95, color: '#FFA500', width: 7 },
    { label: '125 WRT Nadir', data: bt125, color: '#008000', width: 7 },
    { label: '180 WRT Nadir', data: bt180, color: '#0000FF', width: 7 }
  ],
  legendX: [1400, 1634, 1659], legendY: [126, 193, 261, 328],
  legend: [
    { ds: 0, w: 8, text: '85^{o} WRT Nadir' },
    { ds: 1, w: 8, text: '95^{o} WRT Nadir' },
    { ds: 2, w: 8, text: '125^{o} WRT Nadir' },
    { ds: 3, w: 8, text: '180^{o} WRT Nadir' }
  ]
});

makeChart('c2', {
  xmin: 0, xmax: 24, ymin: 169.73, ymax: 305.1, xticks: hourTicks, yticks: btTicks,
  xtitle: hoursTitle, ytitle: 'Zenith BTs, K', ytitlePad: 190,
  shade: true, rightColor: '#9ab8c8',
  series: [
    { label: 'AERI 2510-2515', data: bt2510, color: '#ADD8E6', width: 3.5 },
    { label: 'AERI 985-900', data: bt180, color: '#0000FF', width: 7 }
  ],
  legendX: [1909, 2143, 2167], legendY: [86, 150],
  legend: [
    { ds: 1, w: 8, text: 'AERI 985-900 cm^{-1} (Window)' },
    { ds: 0, w: 4.5, text: 'AERI 2510-2515 cm^{-1} (Window)' }
  ]
});

makeChart('c3', {
  xmin: 0, xmax: 24, ymin: 279.64, ymax: 299.71, xticks: hourTicks, yticks: surfTicks,
  xtitle: hoursTitle, ytitle: 'Zenith BTs, K', ytitlePad: 190,
  shade: true, rightColor: '#b8c0a0',
  series: [
    { label: 'AERI 675-680', data: bt675, color: '#FFA500', width: 7 },
    { label: 'AERI 700-705', data: bt700, color: '#0000FF', width: 7 },
    { label: 'AERI 2295-2300', data: bt2295, color: '#A52A2A', width: 3.5 },
    { label: 'AERI 2282-2287', data: bt2282, color: '#ADD8E6', width: 4 }
  ],
  legendX: [594, 829, 853], legendY: [126, 193, 261, 328],
  legend: [
    { ds: 0, w: 8, text: 'AERI 675-680 cm^{-1} (Surf Air)' },
    { ds: 1, w: 8, text: 'AERI 700-705 cm^{-1}' },
    { ds: 2, w: 4, text: 'AERI 2295-2300 cm^{-1} (Surf Air)' },
    { ds: 3, w: 4, text: 'AERI 2282-2287 cm^{-1}' }
  ]
});

makeChart('c4', {
  xmin: 520, xmax: 1800, ymin: -0.37, ymax: 145.5, xticks: wnTicksA, yticks: radTicksA,
  xtitle: wnTitle, ytitle: radTitle, ytitlePad: 190,
  shade: false, rightColor: '#b0b0b0',
  series: [
    { label: 'Mean Radiance', data: radAllA, color: '#000000', width: 3.5 },
    { label: 'cloudy', data: radCloudyA, color: '#FF0000', width: 3.5 }
  ],
  legendX: [1831, 2065, 2090], legendY: [66, 123],
  legend: [
    { ds: 0, w: 4, text: 'Mean Radiance 0 to 24h UTC 20250221' },
    { ds: 1, w: 4, text: '... cloudy' }
  ]
});

makeChart('c5', {
  xmin: 1800, xmax: 3019, ymin: -0.43, ymax: 9.96, xticks: wnTicksB, yticks: radTicksB,
  xtitle: wnTitle, ytitle: radTitle, ytitlePad: 236,
  shade: false, rightColor: '#b0b0b0',
  series: [
    { label: 'Mean Radiance', data: radAllB, color: '#000000', width: 3.5 },
    { label: 'cloudy', data: radCloudyB, color: '#FF0000', width: 3.5 }
  ],
  legendX: [1831, 2065, 2090], legendY: [65, 122],
  legend: [
    { ds: 0, w: 4, text: 'Mean Radiance 0 to 24h UTC 20250221' },
    { ds: 1, w: 4, text: '... cloudy' }
  ]
});
</script>
</body></html>
